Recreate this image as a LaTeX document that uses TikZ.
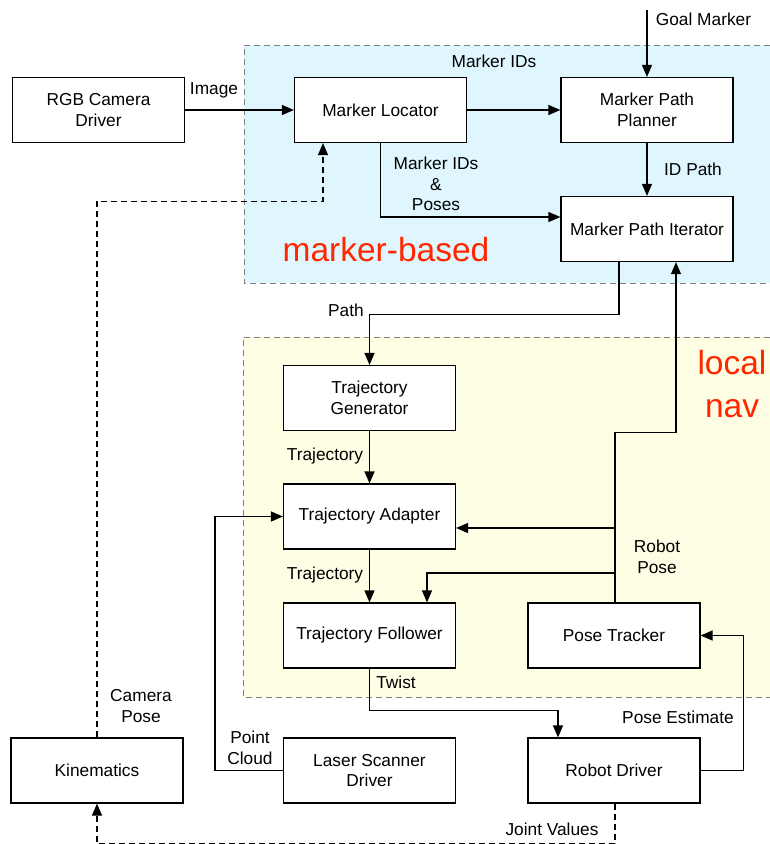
\documentclass[tikz,border=0pt]{standalone}
\usepackage{fontspec}
\setmainfont{Liberation Sans}
\usetikzlibrary{arrows.meta}
\definecolor{markerbg}{HTML}{E0F6FE}
\definecolor{navbg}{HTML}{FEFEE4}
\definecolor{tagred}{HTML}{FF2600}

\begin{document}
\begin{tikzpicture}[x=1pt, y=-1pt,
		box/.style={draw, fill=white, line width=1.2pt, minimum width=172, minimum height=65,
			align=center, inner sep=0, font=\fontsize{17.3}{20.5}\selectfont},
		lbl/.style={align=center, inner sep=0, font=\fontsize{17.3}{20.5}\selectfont},
		tag/.style={align=center, inner sep=0, text=tagred, font=\fontsize{33.5}{43}\selectfont},
		flow/.style={line width=1.2pt, -{Triangle[length=12pt,width=10pt]}},
		camflow/.style={flow, dash pattern=on 6pt off 4pt},
		region/.style={draw=gray, line width=1pt, dash pattern=on 6pt off 4pt}
		]
	\useasboundingbox (0,0) rectangle (770,844);

	% regions
	\fill[markerbg] (244,45) rectangle (770,283);
	\draw[region] (770,45) -- (244,45) -- (244,283) -- (770,283);
	\fill[navbg] (243,337) rectangle (770,697);
	\draw[region] (770,337) -- (243,337) -- (243,697) -- (770,697);
	\node [tag] (tagmarker) at (386,250) {marker-based};
	\node [tag] (tagnav) at (732,384) {local\\nav};

	% nodes
	\node [box] (rgb) at (98.5,110) {RGB Camera\\Driver};
	\node [box] (loc) at (380.5,110) {Marker Locator};
	\node [box] (planner) at (647,110) {Marker Path\\Planner};
	\node [box] (iter) at (647,229) {Marker Path Iterator};
	\node [box] (gen) at (369.5,398) {Trajectory\\Generator};
	\node [box] (adapt) at (369.5,516.5) {Trajectory Adapter};
	\node [box] (follow) at (369.5,635.5) {Trajectory Follower};
	\node [box] (tracker) at (614,635.5) {Pose Tracker};
	\node [box] (kin) at (97,770.5) {Kinematics};
	\node [box] (laser) at (369.5,770.5) {Laser Scanner\\Driver};
	\node [box] (rdriver) at (614,770.5) {Robot Driver};

	\coordinate (goal) at (647,10);
	\coordinate (poseA) at (615,528);
	\coordinate (poseB) at (615,573);

	% connectors
	\draw[flow] (rgb) -- (loc);
	\draw[flow] (loc) -- (planner);
	\draw[flow] (goal) -- (planner.north);
	\draw[flow] (planner) -- (iter);
	\draw[flow] (loc.south) |- ([yshift=12pt]iter.west);
	\draw[flow] ([xshift=-28pt]iter.south) -- ++(0,52) -| (gen.north);
	\draw[flow] ([xshift=1pt]tracker.north) -- ++(0,-170) -| ([xshift=29pt]iter.south);
	\draw[flow] (poseA) -- (adapt.east |- poseA);
	\draw[flow] (poseB) -| ([xshift=57.5pt]follow.north);
	\draw[flow] (gen) -- (adapt);
	\draw[flow] (adapt) -- (follow);
	\draw[flow] (follow.south) -- ++(0,42) -| ([xshift=-56pt]rdriver.north);
	\draw[flow] (rdriver.east) -- ++(43,0) |- (tracker.east);
	\draw[flow] (laser.west) -- ++(-68,0) |- (adapt.west);
	\draw[camflow] (kin.north) -- ++(0,-536) -| ([xshift=-57.5pt]loc.south);
	\draw[camflow] ([xshift=1pt]rdriver.south) -- ++(0,40) -| (kin.south);

	% labels
	\node [lbl] (limage) at (214,90) {Image};
	\node [lbl] (lids) at (494,61) {Marker IDs};
	\node [lbl] (lgoal) at (703.5,19) {Goal Marker};
	\node [lbl] (lidpath) at (693,169) {ID Path};
	\node [lbl] (lposes) at (436,184) {Marker IDs\\\&\\Poses};
	\node [lbl] (lpath) at (346,310) {Path};
	\node [lbl] (ltraj) at (325,456) {Trajectory};
	\node [lbl] (ltrajb) at (325,575) {Trajectory};
	\node [lbl] (lrpose) at (657,557) {Robot\\Pose};
	\node [lbl] (ltwist) at (396,682) {Twist};
	\node [lbl] (lestimate) at (678,717) {Pose Estimate};
	\node [lbl] (lcampose) at (141,706) {Camera\\Pose};
	\node [lbl] (lcloud) at (250,748) {Point\\Cloud};
	\node [lbl] (ljoint) at (552,829) {Joint Values};
\end{tikzpicture}
\end{document}
